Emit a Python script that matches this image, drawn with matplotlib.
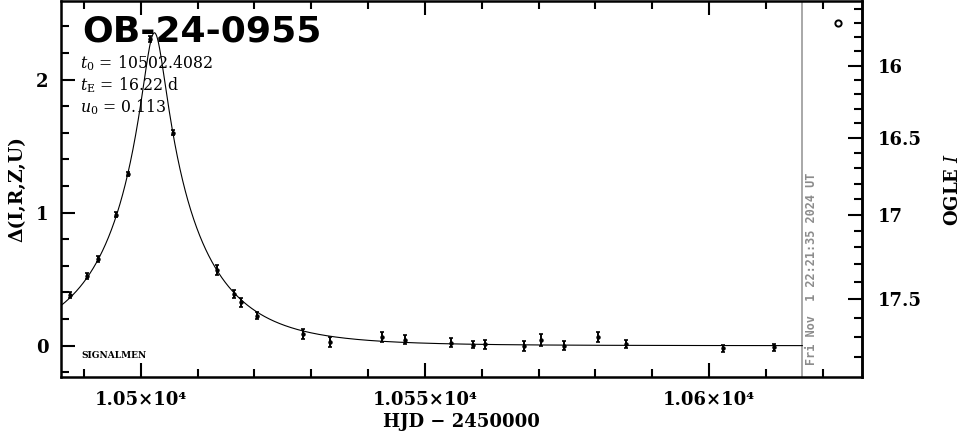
import numpy as np
import matplotlib
matplotlib.use("Agg")
import matplotlib.pyplot as plt
from matplotlib.ticker import MultipleLocator, FixedLocator, FixedFormatter
import matplotlib.transforms as mtransforms

# ---------------- data ----------------
event_name = "OB-24-0955"
t0 = 10502.4082
tE = 16.22
u0 = 0.113
fs_model = 0.978          # source fraction

hjd = [10487.55, 10490.6, 10492.4, 10495.65, 10497.7, 10501.6, 10505.7,
       10513.5, 10516.4, 10517.7, 10520.4, 10528.6, 10533.3, 10542.5,
       10546.5, 10554.6, 10558.4, 10560.6, 10567.5, 10570.5, 10574.5,
       10580.5, 10585.4, 10602.5, 10611.4]
delta = [0.381, 0.524, 0.652, 0.985, 1.291, 2.304, 1.600,
         0.569, 0.386, 0.326, 0.226, 0.086, 0.030, 0.063,
         0.045, 0.023, 0.008, 0.010, -0.002, 0.043, 0.000,
         0.065, 0.015, -0.020, -0.012]
delta_err = [0.024, 0.02, 0.02, 0.02, 0.015, 0.02, 0.02,
             0.034, 0.03, 0.032, 0.025, 0.036, 0.036, 0.038,
             0.035, 0.035, 0.025, 0.035, 0.04, 0.045, 0.035,
             0.036, 0.03, 0.025, 0.025]

ogle_hjd = [10622.7]
ogle_delta = [2.424]

ogle_I_base = 17.746
ogle_fs = 0.671

date_line_hjd = 10616.4
date_text = "Fri Nov  1 22:21:35 2024 UT"

x_range = [10485.97, 10626.9]
y_range = [-0.235, 2.59]
x_tick_values = [10500, 10550, 10600]
x_tick_labels = ["1.05×10⁴", "1.055×10⁴", "1.06×10⁴"]
y_tick_values = [0, 1, 2]
y_tick_labels = ["0", "1", "2"]
mag_tick_values = [16, 16.5, 17, 17.5]
mag_tick_labels = ["16", "16.5", "17", "17.5"]

# ---------------- figure ----------------
plt.rcParams['mathtext.fontset'] = 'dejavuserif'
fig = plt.figure(figsize=(9.65, 4.34), dpi=100)
ax = fig.add_axes([61/965, 57/434, (862-61)/965, (433-57)/434])

# model curve
t = np.linspace(x_range[0], date_line_hjd, 2000)
u = np.sqrt(u0**2 + ((t - t0) / tE)**2)
A = (u**2 + 2) / (u * np.sqrt(u**2 + 4))
model = 2.5 * np.log10(1 + fs_model * (A - 1))
ax.plot(t, model, color='black', lw=0.8, zorder=2)

ax.errorbar(hjd, delta, yerr=delta_err, fmt='o', ms=2.2, color='black',
            ecolor='black', elinewidth=1.4, capsize=1.6, capthick=1.2, zorder=3)
ax.plot(ogle_hjd, ogle_delta, 'o', ms=4.5, mfc='white', mec='black', mew=1.4, zorder=3)

ax.axvline(date_line_hjd, color='#999999', lw=1.2, zorder=1)
trans = mtransforms.blended_transform_factory(ax.transData, ax.transAxes)
trans = mtransforms.offset_copy(trans, fig=fig, x=9, y=0, units='dots')
ax.text(date_line_hjd, 0.032, date_text, transform=trans, rotation=90,
        ha='center', va='bottom', color='#8c8c8c', fontsize=8.6,
        family='DejaVu Sans Mono', fontweight='bold')

ax.set_xlim(*x_range)
ax.set_ylim(*y_range)

serif = 'DejaVu Serif'
ax.xaxis.set_major_locator(FixedLocator(x_tick_values))
ax.xaxis.set_major_formatter(FixedFormatter(x_tick_labels))
ax.xaxis.set_minor_locator(MultipleLocator(10))
ax.yaxis.set_major_locator(FixedLocator(y_tick_values))
ax.yaxis.set_major_formatter(FixedFormatter(y_tick_labels))
ax.yaxis.set_minor_locator(MultipleLocator(0.2))

ax.tick_params(axis='x', which='both', direction='in', top=True, bottom=True)
ax.tick_params(axis='y', which='both', direction='in', left=True, right=False)
ax.tick_params(which='major', length=10, width=1.5)
ax.tick_params(which='minor', length=5.5, width=1.5)
ax.tick_params(axis='x', which='major', pad=10)
ax.tick_params(axis='y', which='major', pad=9)
for lab in ax.get_xticklabels() + ax.get_yticklabels():
    lab.set_family(serif)
    lab.set_fontweight('bold')
    lab.set_fontsize(13)
for s in ax.spines.values():
    s.set_linewidth(1.8)

ax.set_xlabel("HJD − 2450000", family=serif, fontweight='bold', fontsize=13, labelpad=3)
ax.set_ylabel("Δ(I,R,Z,U)", family=serif, fontweight='bold', fontsize=13.5, labelpad=7)

# right magnitude axis
def d2m(d):
    d = np.asarray(d, dtype=float)
    arg = 1 - ogle_fs + ogle_fs * 10**(0.4 * d)
    return ogle_I_base - 2.5 * np.log10(np.clip(arg, 1e-6, None))

def m2d(m):
    m = np.asarray(m, dtype=float)
    arg = (10**(-0.4 * (m - ogle_I_base)) - 1 + ogle_fs) / ogle_fs
    return 2.5 * np.log10(np.clip(arg, 1e-6, None))

sec = ax.secondary_yaxis('right', functions=(d2m, m2d))
sec.yaxis.set_major_locator(FixedLocator(mag_tick_values))
sec.yaxis.set_major_formatter(FixedFormatter(mag_tick_labels))
sec.yaxis.set_minor_locator(MultipleLocator(0.1))
sec.tick_params(which='both', direction='in')
sec.tick_params(which='major', length=10, width=1.5, pad=11)
sec.tick_params(which='minor', length=5.5, width=1.5)
for lab in sec.get_yticklabels():
    lab.set_family(serif)
    lab.set_fontweight('bold')
    lab.set_fontsize(13)
sec.spines['right'].set_linewidth(1.8)
sec.set_ylabel(r"OGLE $\mathit{I}$", family=serif, fontweight='bold', fontsize=13,
               labelpad=16)

# annotations
ax.text(0.026, 0.965, event_name, transform=ax.transAxes, fontsize=26,
        fontweight='bold', family='DejaVu Sans', va='top', ha='left')
ax.text(0.024, 0.835, r"$t_0$ = 10502.4082", transform=ax.transAxes,
        fontsize=11.3, family=serif, va='center', ha='left')
ax.text(0.024, 0.777, r"$t_{\rm E}$ = 16.22 d", transform=ax.transAxes,
        fontsize=11.3, family=serif, va='center', ha='left')
ax.text(0.024, 0.718, r"$u_0$ = 0.113", transform=ax.transAxes,
        fontsize=11.3, family=serif, va='center', ha='left')
ax.text(0.026, 0.056, "SIGNALMEN", transform=ax.transAxes, fontsize=6.5,
        family=serif, fontweight='bold', va='center', ha='left')

fig.savefig("out.png", dpi=100)
